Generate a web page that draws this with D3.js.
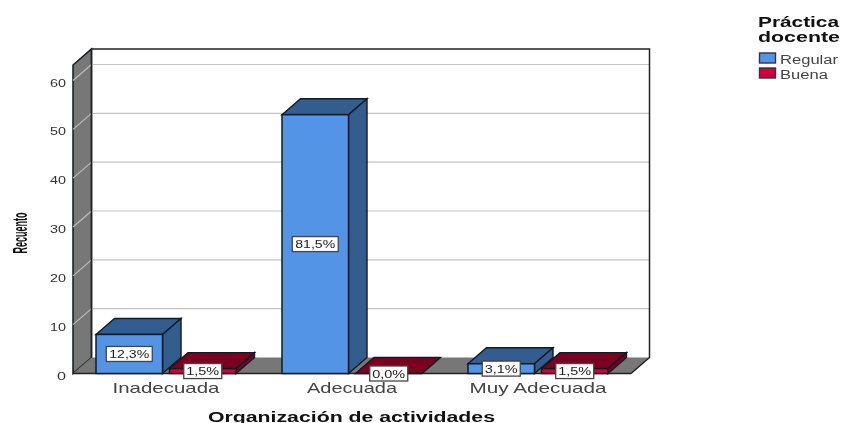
<!DOCTYPE html>
<html><head><meta charset="utf-8">
<script src="https://cdn.jsdelivr.net/npm/d3@7"></script>
<style>html,body{margin:0;padding:0;background:#fff}svg{display:block;filter:blur(0.3px)}text{font-family:"Liberation Sans",Arial,sans-serif}</style>
</head><body><svg id="c" width="842" height="423"></svg>
<script>
const categories = ["Inadecuada","Adecuada","Muy Adecuada"];
const seriesNames = ["Regular","Buena"];
const regularCounts = [8,53,2];
const buenaCounts = [1,0,1];
const regularLabels = ["12,3%","81,5%","3,1%"];
const buenaLabels = ["1,5%","0,0%","1,5%"];
const yTicks = [0,10,20,30,40,50,60];
const xTitle = "Organización de actividades";
const yTitle = "Recuento";
const legendTitle = ["Práctica","docente"];

const frontColors = {Regular:"#5394e6",Buena:"#d2003a"};
const shadeColors = {Regular:"#335c8f",Buena:"#7c001f"};
const stroke = "#121a24";
const dx = 18.5, dy = 16;
const svg = d3.select("#c");
const x0 = d3.scaleBand().domain(categories).range([73,631]).paddingInner(0.2473).paddingOuter(0.1237);
const x1 = d3.scaleBand().domain(seriesNames).range([0,x0.bandwidth()]).paddingInner(0.095);
const y = d3.scaleLinear().domain([0,60]).range([373.5,80.5]);
const yBase = y(0), yTop = 65, xL = x0.range()[0], xR = x0.range()[1];
const poly = pts => pts.map(p=>p.join(",")).join(" ");

// walls and floor
svg.append("polygon").attr("points",poly([[xL,yTop],[xL+dx,yTop-dy],[xL+dx,yBase-dy],[xL,yBase]])).attr("fill","#777").attr("stroke",stroke).attr("stroke-width",1.5);
svg.append("polygon").attr("points",poly([[xL,yBase],[xR,yBase],[xR+dx,yBase-dy],[xL+dx,yBase-dy]])).attr("fill","#777");
// gridlines
yTicks.filter(d=>d>0).forEach(t=>{
  svg.append("line").attr("x1",xL+dx).attr("x2",xR+dx).attr("y1",y(t)-dy).attr("y2",y(t)-dy).attr("stroke","#c4c4c4").attr("stroke-width",1.2);
  svg.append("line").attr("x1",xL).attr("x2",xL+dx).attr("y1",y(t)).attr("y2",y(t)-dy).attr("stroke","#bdbdbd").attr("stroke-width",1.2);
});
// frame
svg.append("path").attr("d",`M${xL+dx},${yBase-dy}V${yTop-dy}H${xR+dx}V${yBase-dy}L${xR},${yBase}`).attr("fill","none").attr("stroke","#222").attr("stroke-width",1.5);
svg.append("line").attr("x1",xL).attr("x2",xR).attr("y1",yBase).attr("y2",yBase).attr("stroke","#222").attr("stroke-width",1.6);

// bars
const rows = [];
categories.forEach((c,i)=>{
  rows.push({c,s:"Regular",v:regularCounts[i],l:regularLabels[i]});
  rows.push({c,s:"Buena",v:buenaCounts[i],l:buenaLabels[i]});
});
const bars = svg.append("g").selectAll("g").data(rows).join("g");
bars.each(function(d){
  const g = d3.select(this), xa = x0(d.c)+x1(d.s), xb = xa+x1.bandwidth(), yt = y(d.v);
  g.append("polygon").attr("points",poly([[xa,yt],[xa+dx,yt-dy],[xb+dx,yt-dy],[xb,yt]])).attr("fill",shadeColors[d.s]).attr("stroke",stroke).attr("stroke-width",1.4);
  if(d.v>0){
    g.append("polygon").attr("points",poly([[xb,yt],[xb+dx,yt-dy],[xb+dx,yBase-dy],[xb,yBase]])).attr("fill",shadeColors[d.s]).attr("stroke",stroke).attr("stroke-width",1.4);
    g.append("rect").attr("x",xa).attr("y",yt).attr("width",xb-xa).attr("height",yBase-yt).attr("fill",frontColors[d.s]).attr("stroke",stroke).attr("stroke-width",1.5);
  }
});
// value labels
const labels = svg.append("g").selectAll("g").data(rows).join("g");
labels.each(function(d){
  const g = d3.select(this), cx = x0(d.c)+x1(d.s)+x1.bandwidth()/2, cy = (y(d.v)+yBase)/2;
  const w = d.l.length>4?46:38, h = 15;
  g.append("rect").attr("x",cx-w/2).attr("y",cy-h/2).attr("width",w).attr("height",h).attr("fill","#fff").attr("stroke","#444").attr("stroke-width",1.3);
  g.append("text").attr("x",cx).attr("y",cy+4).attr("text-anchor","middle").attr("font-size",11.5).attr("fill","#222").text(d.l)
    .attr("textLength",d.l.length>4?40:33).attr("lengthAdjust","spacingAndGlyphs");
});

// axes
const yAxis = svg.append("g").attr("transform",`translate(${xL},2)`).call(d3.axisLeft(y).tickValues(yTicks).tickSize(0).tickPadding(7));
yAxis.select(".domain").remove();
yAxis.selectAll("text").attr("font-size",11).attr("fill","#333").attr("textLength",d=>d===0?9:16).attr("lengthAdjust","spacingAndGlyphs").style("font-family",'"Liberation Sans"');
const xAxis = svg.append("g").attr("transform",`translate(0,${yBase})`).call(d3.axisBottom(x0).tickSize(0).tickPadding(8.5));
xAxis.select(".domain").remove();
const catW = {"Inadecuada":107,"Adecuada":90,"Muy Adecuada":137};
xAxis.selectAll("text").attr("font-size",15).attr("fill","#444").attr("textLength",d=>catW[d]).attr("lengthAdjust","spacingAndGlyphs").style("font-family",'"Liberation Sans"');

// titles
svg.append("text").attr("x",351.5).attr("y",421.5).attr("text-anchor","middle").attr("font-size",14.5).attr("font-weight","bold").attr("fill","#111").attr("textLength",287).attr("lengthAdjust","spacingAndGlyphs").text(xTitle);
svg.append("text").attr("transform","translate(26.5,233) rotate(-90)").attr("text-anchor","middle").attr("font-size",20.5).attr("font-weight","bold").attr("fill","#111").attr("textLength",41).attr("lengthAdjust","spacingAndGlyphs").text(yTitle);

// legend
legendTitle.forEach((t,i)=>svg.append("text").attr("x",758).attr("y",27+i*14.5).attr("font-size",14).attr("font-weight","bold").attr("fill","#111").attr("textLength",i?82:81).attr("lengthAdjust","spacingAndGlyphs").text(t));
seriesNames.forEach((s,i)=>{
  const ly = 53+i*15;
  svg.append("rect").attr("x",759.5).attr("y",ly).attr("width",16).attr("height",10).attr("fill",frontColors[s]).attr("stroke","#334").attr("stroke-width",1.4);
  svg.append("text").attr("x",780).attr("y",ly+10.5).attr("font-size",12).attr("fill","#444").attr("textLength",i?48:58).attr("lengthAdjust","spacingAndGlyphs").text(s);
});
</script></body></html>
